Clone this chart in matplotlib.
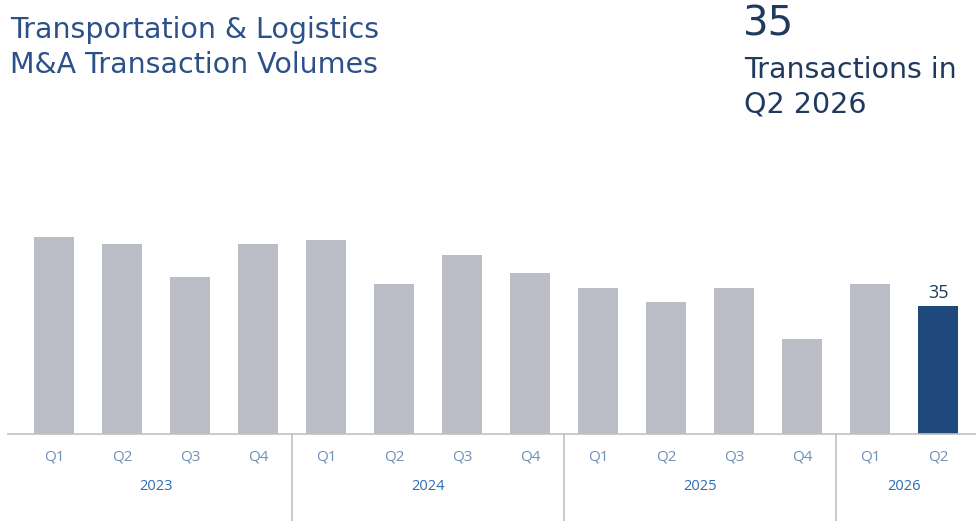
import numpy as np
import matplotlib as mpl
mpl.use('Agg')
import matplotlib.pyplot as plt
import matplotlib.transforms as mtransforms

quarters = ["Q1", "Q2", "Q3", "Q4"] * 3 + ["Q1", "Q2"]
years = ["2023", "2024", "2025", "2026"]
year_counts = [4, 4, 4, 2]
volumes = [54, 52, 43, 52, 53, 41, 49, 44, 40, 36, 40, 26, 41, 35]

grey = "#bbbec6"
navy = "#1f497d"
title_col = "#2c5189"

fig = plt.figure(figsize=(9.79, 5.21), dpi=100)
W, H = 979, 521
ax = fig.add_axes([8 / W, (H - 434) / H, (975 - 8) / W, (434 - 140) / H])

xs = np.arange(len(volumes))
colors = [grey] * (len(volumes) - 1) + [navy]
ax.bar(xs, volumes, width=0.59, color=colors, zorder=2)
ax.set_xlim(-0.676, 13.54)
ax.set_ylim(0, 80.4)

for s in ["top", "right", "left"]:
    ax.spines[s].set_visible(False)
ax.spines["bottom"].set_color("#c0c0c0")
ax.spines["bottom"].set_linewidth(1.2)
ax.set_yticks([])
ax.set_xticks(xs)
ax.set_xticklabels(quarters, fontsize=11, color="#7090b4", family="Open Sans")
ax.tick_params(axis="x", length=0, pad=11)

# value label on last bar
ax.text(xs[-1], volumes[-1] + 1.0, str(volumes[-1]), ha="center", va="bottom",
        fontsize=13, color="#1f3a5f", family="Open Sans")

# year labels and separators
trans = mtransforms.blended_transform_factory(ax.transData, ax.transAxes)
start = 0
for i, (yr, n) in enumerate(zip(years, year_counts)):
    center = start + (n - 1) / 2
    ax.text(center, -0.178, yr, transform=trans, ha="center", va="center",
            fontsize=10.5, color="#2a6cb0", family="Open Sans")
    if i < len(years) - 1:
        sep = start + n - 0.5
        ax.plot([sep, sep], [0, -0.3], transform=trans, color="#c0c0c0",
                lw=1.2, clip_on=False)
    start += n

fig.text(10 / W, 1 - 30 / H, "Transportation & Logistics", fontsize=20.5,
         color=title_col, family="DejaVu Sans", va="center", ha="left")
fig.text(10 / W, 1 - 65 / H, "M&A Transaction Volumes", fontsize=20.5,
         color=title_col, family="DejaVu Sans", va="center", ha="left")

fig.text(743 / W, 1 - 25 / H, "35", fontsize=29, color="#1f3a5f",
         family="DejaVu Sans", va="center", ha="left")
fig.text(744 / W, 1 - 70 / H, "Transactions in", fontsize=20.5, color="#1f3a5f",
         family="DejaVu Sans", va="center", ha="left")
fig.text(744 / W, 1 - 104 / H, "Q2 2026", fontsize=20.5, color="#1f3a5f",
         family="DejaVu Sans", va="center", ha="left")

fig.savefig("out.png", dpi=100)
